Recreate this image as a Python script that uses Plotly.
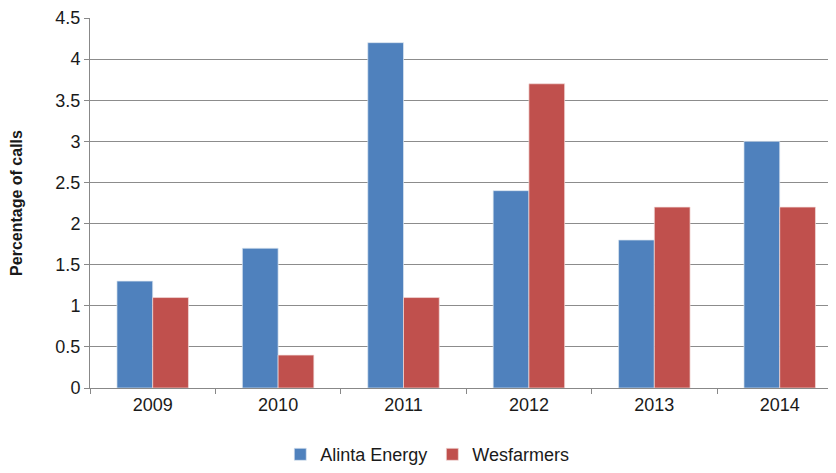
import plotly.graph_objects as go

years = ["2009", "2010", "2011", "2012", "2013", "2014"]
alinta = [1.3, 1.7, 4.2, 2.4, 1.8, 3.0]
wesfarmers = [1.1, 0.4, 1.1, 3.7, 2.2, 2.2]

fig = go.Figure()
fig.add_trace(go.Bar(x=years, y=alinta, name="Alinta Energy",
                     marker=dict(color="#4F81BD", line=dict(color="#dce6f1", width=0.7))))
fig.add_trace(go.Bar(x=years, y=wesfarmers, name="Wesfarmers",
                     marker=dict(color="#C0504D", line=dict(color="#f2dcdb", width=0.7))))

font = "Liberation Sans, Arial, sans-serif"
fig.update_layout(
    width=820, height=467,
    margin=dict(l=82, r=0, t=10, b=87),
    paper_bgcolor="white", plot_bgcolor="white",
    barmode="group", bargap=0.43, bargroupgap=0,
    font=dict(family=font, size=18, color="#1a1a1a"),
    showlegend=True,
    legend=dict(orientation="h", x=0.457, xanchor="center", y=-0.13, yanchor="top",
                font=dict(size=18), itemwidth=30, traceorder="normal"),
    xaxis=dict(range=[-0.5, 5.385], showline=True, linecolor="#888888", linewidth=1,
               ticks="outside", tickson="boundaries", ticklen=5, tickcolor="#888888",
               showgrid=False, tickfont=dict(size=18), automargin=False),
    yaxis=dict(range=[0, 4.5], dtick=0.5, showline=True, linecolor="#888888", linewidth=1,
               ticks="outside", ticklen=5, tickcolor="#888888",
               showgrid=True, gridcolor="#8c8c8c", gridwidth=1, zeroline=False,
               tickfont=dict(size=18), automargin=False,
               title=dict(text="<b>Percentage of calls</b>", font=dict(size=16), standoff=28)),
)
fig.write_html("out.html")
